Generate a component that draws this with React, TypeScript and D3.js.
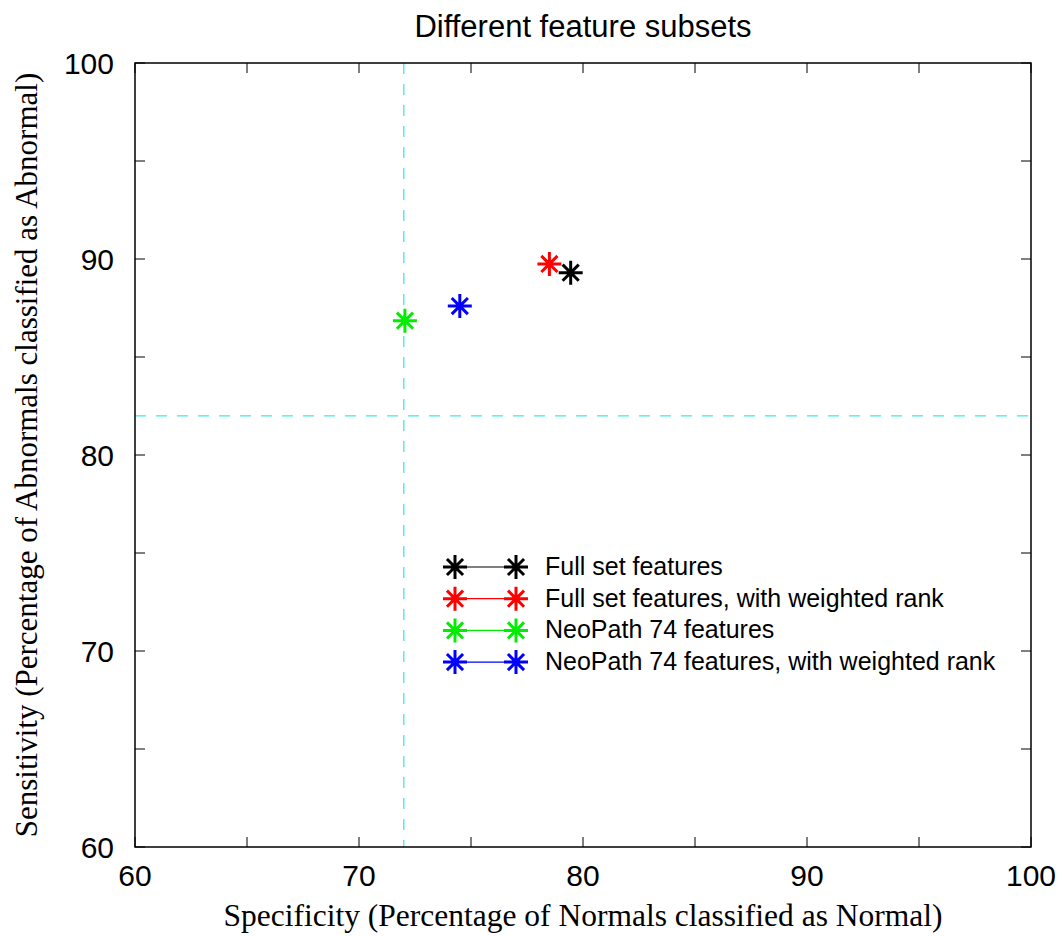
import React, { useEffect, useRef } from "react";
import * as d3 from "d3";

const seriesNames = [
  "Full set features",
  "Full set features, with weighted rank",
  "NeoPath 74 features",
  "NeoPath 74 features, with weighted rank",
];
const seriesColors = ["#000000", "#ff0000", "#00ee00", "#0000ff"];
const specificity = [79.45, 78.5, 72.05, 74.5];
const sensitivity = [89.3, 89.75, 86.85, 87.6];
const xTicks = [60, 70, 80, 90, 100];
const yTicks = [60, 70, 80, 90, 100];
const refSpecificity = 72;
const refSensitivity = 82;

const App = () => {
  const svgRef = useRef<SVGSVGElement>(null);

  useEffect(() => {
    const width = 1062;
    const height = 936;
    const m = { left: 135, right: 31, top: 63, bottom: 89 };

    const svg = d3.select(svgRef.current);
    svg.selectAll("*").remove();
    svg.attr("width", width).attr("height", height);

    const x = d3.scaleLinear().domain([60, 100]).range([m.left, width - m.right]);
    const y = d3.scaleLinear().domain([60, 100]).range([height - m.bottom, m.top]);
    const [x0, x1] = x.range();
    const [y0, y1] = [y(100), y(60)];

    const g = svg.append("g");

    // reference lines
    g.append("line")
      .attr("x1", x(refSpecificity)).attr("x2", x(refSpecificity))
      .attr("y1", y0).attr("y2", y1)
      .attr("stroke", "#40e8e8").attr("stroke-width", 1.3)
      .attr("stroke-dasharray", "11,10");
    g.append("line")
      .attr("x1", x0).attr("x2", x1)
      .attr("y1", y(refSensitivity)).attr("y2", y(refSensitivity))
      .attr("stroke", "#40e8e8").attr("stroke-width", 1.3)
      .attr("stroke-dasharray", "11,10");

    // ticks every 5, inside, both sides
    const minor = d3.range(60, 101, 5);
    minor.forEach((v) => {
      g.append("line").attr("x1", x(v)).attr("x2", x(v)).attr("y1", y1).attr("y2", y1 - 10).attr("stroke", "#000");
      g.append("line").attr("x1", x(v)).attr("x2", x(v)).attr("y1", y0).attr("y2", y0 + 10).attr("stroke", "#000");
      g.append("line").attr("y1", y(v)).attr("y2", y(v)).attr("x1", x0).attr("x2", x0 + 10).attr("stroke", "#000");
      g.append("line").attr("y1", y(v)).attr("y2", y(v)).attr("x1", x1).attr("x2", x1 - 10).attr("stroke", "#000");
    });

    g.append("rect")
      .attr("x", x0).attr("y", y0)
      .attr("width", x1 - x0).attr("height", y1 - y0)
      .attr("fill", "none").attr("stroke", "#000").attr("stroke-width", 1.5);

    const sans = "'Liberation Sans', Arial, sans-serif";
    const serif = "'Liberation Serif', 'Times New Roman', serif";

    g.selectAll(".xt").data(xTicks).join("text")
      .attr("x", (d) => x(d)).attr("y", y1 + 39)
      .attr("text-anchor", "middle")
      .attr("font-family", sans).attr("font-size", 30)
      .text((d) => d);
    g.selectAll(".yt").data(yTicks).join("text")
      .attr("x", x0 - 21).attr("y", (d) => y(d) + 11)
      .attr("text-anchor", "end")
      .attr("font-family", sans).attr("font-size", 30)
      .text((d) => d);

    svg.append("text")
      .attr("x", 583).attr("y", 37)
      .attr("text-anchor", "middle")
      .attr("font-family", sans).attr("font-size", 31)
      .text("Different feature subsets");
    svg.append("text")
      .attr("x", 583).attr("y", 926)
      .attr("text-anchor", "middle")
      .attr("font-family", serif).attr("font-size", 31.5)
      .text("Specificity (Percentage of Normals classified as Normal)");
    svg.append("text")
      .attr("transform", `translate(37,${(y0 + y1) / 2}) rotate(-90)`)
      .attr("text-anchor", "middle")
      .attr("font-family", serif).attr("font-size", 31)
      .text("Sensitivity (Percentage of Abnormals classified as Abnormal)");

    const star = (sel: any, cx: number, cy: number, color: string) => {
      const r = 12;
      const d = r * Math.SQRT1_2 * 0.95;
      const p = `M${cx - r},${cy}L${cx + r},${cy}M${cx},${cy - r}L${cx},${cy + r}` +
        `M${cx - d},${cy - d}L${cx + d},${cy + d}M${cx - d},${cy + d}L${cx + d},${cy - d}`;
      sel.append("path").attr("d", p).attr("stroke", color).attr("stroke-width", 3).attr("fill", "none");
    };

    seriesNames.forEach((name, i) => {
      star(g, x(specificity[i]), y(sensitivity[i]), seriesColors[i]);
      const ly = 567 + i * 31.7;
      g.append("line").attr("x1", 455).attr("x2", 516).attr("y1", ly).attr("y2", ly)
        .attr("stroke", seriesColors[i]).attr("stroke-width", 1.2);
      star(g, 455, ly, seriesColors[i]);
      star(g, 516, ly, seriesColors[i]);
      g.append("text").attr("x", 545).attr("y", ly + 8)
        .attr("font-family", sans).attr("font-size", 25)
        .text(name);
    });
  }, []);

  return <svg ref={svgRef} style={{ position: "absolute", left: 0, top: 0 }}></svg>;
};

export default App;
